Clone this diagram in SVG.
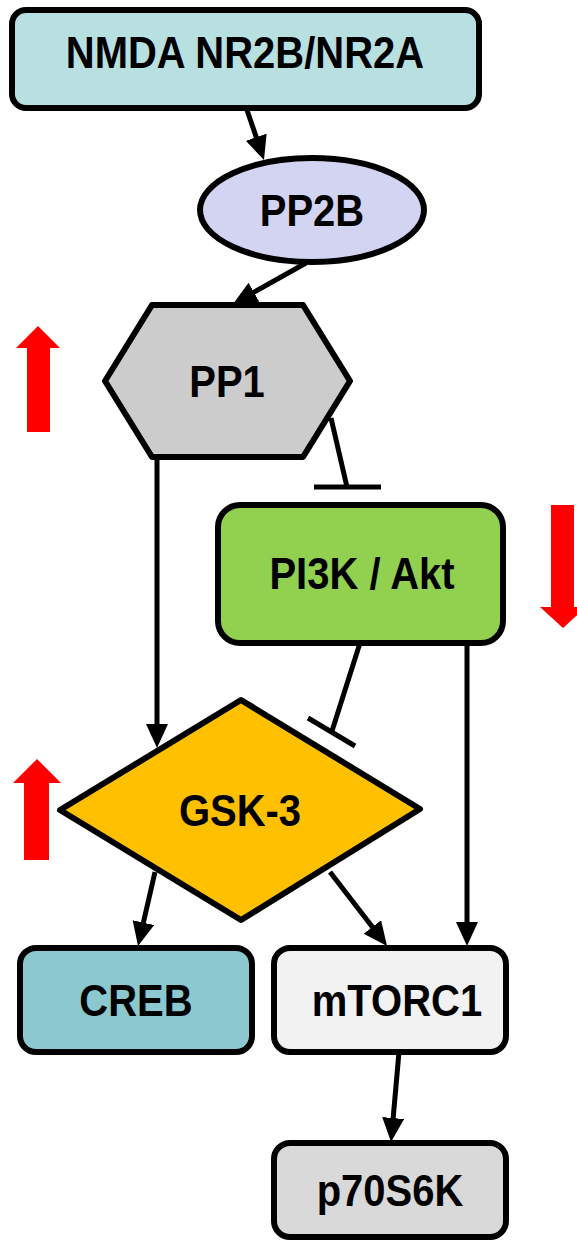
<svg xmlns="http://www.w3.org/2000/svg" width="577" height="1241" viewBox="0 0 577 1241">
  <style>
    .node { stroke: #000; stroke-width: 6; stroke-linejoin: round; }
    .lbl { font-family: "Liberation Sans", Arial, sans-serif; font-weight: bold; font-size: 40px; fill: #000; text-anchor: middle; }
    .conn { stroke: #000; stroke-width: 5; fill: none; }
    .red { fill: #ff0000; stroke: none; }
  </style>
  <defs>
    <marker id="arr" markerUnits="userSpaceOnUse" markerWidth="26" markerHeight="24" refX="12" refY="11" orient="auto">
      <path d="M0,0 L24,11 L0,22 Z" fill="#000"/>
    </marker>
  </defs>
  <rect width="577" height="1241" fill="#fff"/>

  <g id="connectors">
    <line class="conn" x1="247" y1="110" x2="260.1" y2="148.6" marker-end="url(#arr)"/>
    <line class="conn" x1="306" y1="263" x2="243.5" y2="298.1" marker-end="url(#arr)"/>
    <line class="conn" x1="157" y1="457" x2="157" y2="736" marker-end="url(#arr)"/>
    <line class="conn" x1="331" y1="418" x2="347" y2="487"/>
    <line class="conn" x1="314" y1="487" x2="381" y2="487"/>
    <line class="conn" x1="360" y1="643" x2="332" y2="731"/>
    <line class="conn" x1="308" y1="718" x2="355" y2="746"/>
    <line class="conn" x1="467" y1="643" x2="467" y2="934" marker-end="url(#arr)"/>
    <line class="conn" x1="155" y1="872" x2="140.7" y2="934.3" marker-end="url(#arr)"/>
    <line class="conn" x1="330" y1="872" x2="379.7" y2="936.5" marker-end="url(#arr)"/>
    <line class="conn" x1="399" y1="1052" x2="392.1" y2="1130" marker-end="url(#arr)"/>
  </g>

  <g id="nmda">
    <rect class="node" x="12" y="10" width="467" height="98" rx="14" fill="#b9e0e1"/>
    <text class="lbl" transform="translate(245,68) scale(1,1.12)">NMDA NR2B/NR2A</text>
  </g>
  <g id="pp2b">
    <ellipse class="node" cx="312" cy="210" rx="112" ry="52" fill="#d3d3f2"/>
    <text class="lbl" transform="translate(312,226) scale(1,1.12)">PP2B</text>
  </g>
  <g id="pp1">
    <polygon class="node" points="152,305 303,305 350,381 303,457 152,457 105,381" fill="#cccccc"/>
    <text class="lbl" transform="translate(227,397) scale(1,1.12)">PP1</text>
  </g>
  <g id="pi3k">
    <rect class="node" x="218" y="505" width="285" height="138" rx="22" fill="#92d050"/>
    <text class="lbl" transform="translate(362,589) scale(1,1.12)">PI3K / Akt</text>
  </g>
  <g id="gsk3">
    <polygon class="node" points="241,700 420,809 241,920 60,810" fill="#ffc000"/>
    <text class="lbl" transform="translate(240,826) scale(1,1.12)">GSK-3</text>
  </g>
  <g id="creb">
    <rect class="node" x="20" y="948" width="232" height="104" rx="16" fill="#8cc8cf"/>
    <text class="lbl" transform="translate(136,1016) scale(1,1.12)">CREB</text>
  </g>
  <g id="mtorc1">
    <rect class="node" x="274" y="948" width="232" height="104" rx="16" fill="#f2f2f2"/>
    <text class="lbl" transform="translate(397,1016) scale(1,1.12)">mTORC1</text>
  </g>
  <g id="p70s6k">
    <rect class="node" x="274" y="1143" width="232" height="94" rx="16" fill="#d9d9d9"/>
    <text class="lbl" transform="translate(390,1206) scale(1,1.12)">p70S6K</text>
  </g>

  <g id="indicators">
    <polygon class="red" points="38,326 60,348 50,348 50,432 27,432 27,348 16,348"/>
    <polygon class="red" points="551,505 574,505 574,607 586,607 563,628 540,607 551,607"/>
    <polygon class="red" points="37,759 61,783 49,783 49,860 24,860 24,783 13,783"/>
  </g>
</svg>
